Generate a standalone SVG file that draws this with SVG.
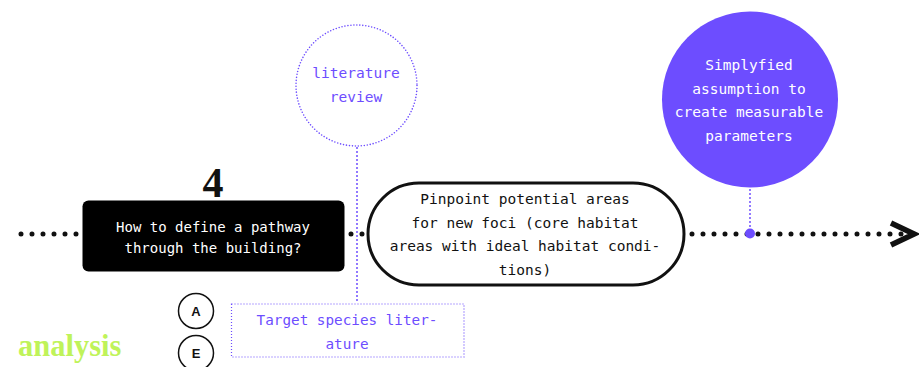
<svg xmlns="http://www.w3.org/2000/svg" width="919" height="367" viewBox="0 0 919 367">
  <style>
    .mono { font-family: "DejaVu Sans Mono", "Liberation Mono", monospace; font-size: 14.5px; text-anchor: middle; }
    .purple { fill: #6d4dff; }
    .white { fill: #ffffff; }
    .black { fill: #111111; }
    .pdots { fill: none; stroke: #6d4dff; stroke-width: 2; stroke-linecap: round; stroke-dasharray: 0 4; }
    .badge { fill: #ffffff; stroke: #111111; stroke-width: 1.5; }
    .badge-t { font-family: "Liberation Sans", Arial, sans-serif; font-weight: bold; font-size: 13px; text-anchor: middle; fill: #111111; }
  </style>

  <rect width="919" height="367" fill="#ffffff"/>

  <!-- connectors -->
  <g id="connectors">
    <line x1="21" y1="234" x2="905" y2="234" stroke="#111111" stroke-width="5" stroke-linecap="round" stroke-dasharray="0 11"/>
    <polyline points="891,223 914,234 891,245" fill="none" stroke="#111111" stroke-width="5.5" stroke-linejoin="miter"/>
    <line x1="357" y1="148" x2="357" y2="302" class="pdots"/>
    <line x1="750" y1="190" x2="750" y2="230" class="pdots"/>
    <circle cx="750" cy="233.5" r="5" fill="#6d4dff"/>
  </g>

  <!-- step number -->
  <text x="213" y="197" font-family="Liberation Serif, serif" font-weight="bold" font-size="42" text-anchor="middle" fill="#111111">4</text>

  <g id="question">
    <rect x="82.5" y="200.5" width="262" height="71" rx="6" fill="#000000"/>
    <text class="mono white" x="213" y="232" style="font-size:14px">How to define a pathway</text>
    <text class="mono white" x="213" y="253" style="font-size:14px">through the building?</text>
  </g>

  <g id="pinpoint">
    <rect x="368" y="183" width="316" height="102" rx="51" fill="#ffffff" stroke="#111111" stroke-width="3"/>
    <text class="mono black" x="525" y="204">Pinpoint potential areas</text>
    <text class="mono black" x="525" y="228">for new foci (core habitat</text>
    <text class="mono black" x="525" y="251">areas with ideal habitat condi-</text>
    <text class="mono black" x="525" y="275">tions)</text>
  </g>

  <g id="literature-review">
    <circle cx="356.5" cy="85.5" r="60.5" fill="#ffffff" class="pdots" style="stroke-width:1.6;stroke-dasharray:0 3"/>
    <text class="mono purple" x="356" y="78">literature</text>
    <text class="mono purple" x="356" y="102">review</text>
  </g>

  <g id="assumption">
    <circle cx="750" cy="99.5" r="88" fill="#6d4dff"/>
    <text class="mono white" x="749" y="70">Simplyfied</text>
    <text class="mono white" x="749" y="94">assumption to</text>
    <text class="mono white" x="749" y="117">create measurable</text>
    <text class="mono white" x="749" y="141">parameters</text>
  </g>

  <g id="badge-a">
    <circle cx="196" cy="311" r="17.5" class="badge"/>
    <text class="badge-t" x="196" y="315.5">A</text>
  </g>
  <g id="badge-e">
    <circle cx="196" cy="353" r="17.5" class="badge"/>
    <text class="badge-t" x="196" y="358">E</text>
  </g>

  <g id="species-literature">
    <rect x="231.5" y="304" width="232.5" height="53" fill="#ffffff" stroke="#6d4dff" stroke-width="1.2" stroke-dasharray="1 2"/>
    <text class="mono purple" x="347" y="325" style="font-size:14.3px">Target species liter-</text>
    <text class="mono purple" x="347" y="349" style="font-size:14.3px">ature</text>
  </g>

  <text x="18" y="356" font-family="Liberation Serif, serif" font-weight="bold" font-size="30.5" fill="#bff35a">analysis</text>
</svg>
